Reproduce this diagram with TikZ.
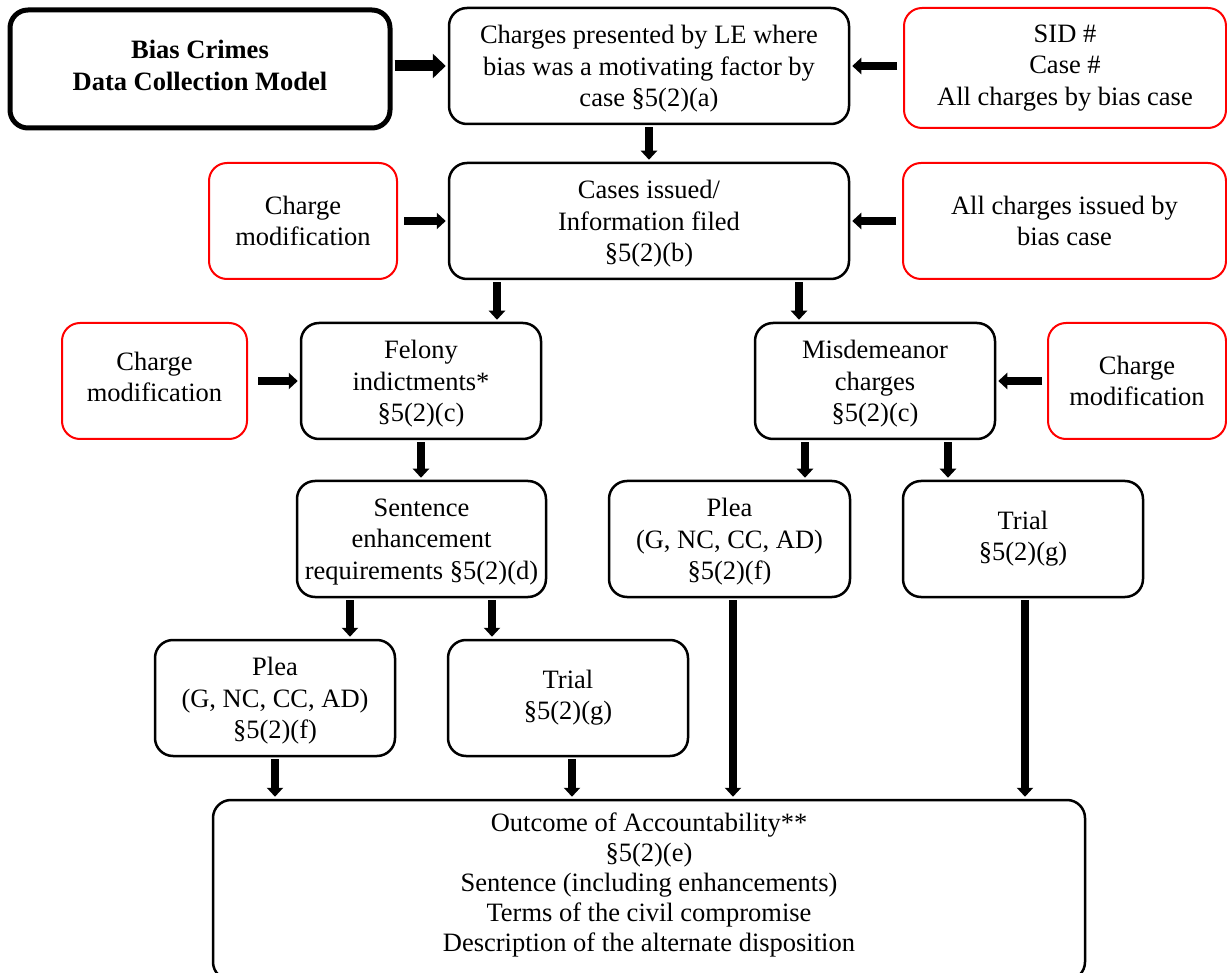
\documentclass[tikz,border=0pt]{standalone}
\usepackage{fontspec}
\setmainfont{Liberation Serif}
\usetikzlibrary{arrows.meta}
\begin{document}
\begin{tikzpicture}[x=1pt,y=-1pt,
  box/.style={draw=black, line width=2.5pt, rounded corners=18pt, align=center,
    font=\fontsize{26.5}{31.5}\selectfont, inner sep=0pt, text depth=0pt},
  redbox/.style={draw=red, line width=2pt, rounded corners=18pt, align=center,
    font=\fontsize{26.5}{31.5}\selectfont, inner sep=0pt},
  titlebox/.style={draw=black, line width=5pt, rounded corners=18pt, align=center,
    inner sep=0pt, text depth=7pt, font=\fontsize{26.5}{31.5}\selectfont\bfseries},
  arr/.style={line width=8pt, -{Triangle[width=16pt,length=9pt]}, shorten <=2pt, shorten >=2pt},
  bigarr/.style={line width=11pt, -{Triangle[width=24pt,length=13pt]}, shorten <=2pt, shorten >=2pt},
  arrr/.style={arr, shorten <=6pt}
]
\useasboundingbox (0,0) rectangle (1227,973);

% nodes
\node[titlebox, minimum width=380pt, minimum height=118pt] (title) at (200,69) {Bias Crimes\\Data Collection Model};
\node[box, minimum width=400pt, minimum height=116pt] (top) at (649,66) {Charges presented by LE where\\bias was a motivating factor by\\case \S5(2)(a)};
\node[redbox, minimum width=322pt, minimum height=120pt] (sid) at (1065,68) {SID \#\\Case \#\\All charges by bias case};

\node[box, minimum width=400pt, minimum height=116pt] (cases) at (649,221) {Cases issued/\\Information filed\\\S5(2)(b)};
\node[redbox, minimum width=188pt, minimum height=116pt] (cmA) at (303,221) {Charge\\modification};
\node[redbox, minimum width=323pt, minimum height=116pt] (allch) at (1064.5,221) {All charges issued by\\bias case};

\node[box, minimum width=240pt, minimum height=116pt] (felony) at (421,381) {Felony\\indictments*\\\S5(2)(c)};
\node[redbox, minimum width=185pt, minimum height=116pt, text depth=8pt] (cmB) at (154.5,381) {Charge\\modification};
\node[box, minimum width=240pt, minimum height=116pt] (misd) at (875,381) {Misdemeanor\\charges\\\S5(2)(c)};
\node[redbox, minimum width=178pt, minimum height=116pt] (cmC) at (1137,381) {Charge\\modification};

\node[box, minimum width=249pt, minimum height=116pt] (sent) at (421.5,539) {Sentence\\enhancement\\requirements \S5(2)(d)};
\node[box, minimum width=241pt, minimum height=116pt, text depth=-3pt] (pleaR) at (729.5,539) {Plea\\(G, NC, CC, AD)\\\S5(2)(f)};
\node[box, minimum width=240pt, minimum height=116pt, text depth=6pt] (trialR) at (1023,539) {Trial\\\S5(2)(g)};

\node[box, minimum width=240pt, minimum height=116pt] (pleaL) at (275,698) {Plea\\(G, NC, CC, AD)\\\S5(2)(f)};
\node[box, minimum width=240pt, minimum height=116pt, text depth=6pt] (trialL) at (568,698) {Trial\\\S5(2)(g)};

\node[box, minimum width=872pt, minimum height=180pt, text depth=15pt, font=\fontsize{26.5}{30}\selectfont] (out) at (649,890)
  {Outcome of Accountability**\\\S5(2)(e)\\Sentence (including enhancements)\\Terms of the civil compromise\\Description of the alternate disposition};

% column coordinates
\coordinate (xA) at (497,0);
\coordinate (xB) at (799,0);
\coordinate (xC) at (805,0);
\coordinate (xD) at (948,0);
\coordinate (xE) at (350,0);
\coordinate (xF) at (492,0);
\coordinate (xG) at (572,0);
\coordinate (xH) at (733,0);
\coordinate (xI) at (1025,0);

% horizontal arrows
\draw[bigarr] (title.east |- top.west) -- (top.west);
\draw[arrr] (sid.west |- top.east) -- (top.east);
\draw[arrr] (cmA.east) -- (cases.west);
\draw[arrr] (allch.west) -- (cases.east);
\draw[arr, shorten <=10pt] (cmB.east) -- (felony.west);
\draw[arr, shorten <=5pt] (cmC.west) -- (misd.east);

% vertical arrows
\draw[arr] (top.south) -- (cases.north);
\draw[arr] (xA |- cases.south) -- (xA |- felony.north);
\draw[arr] (xB |- cases.south) -- (xB |- misd.north);
\draw[arr] (felony.south) -- (felony.south |- sent.north);
\draw[arr] (xC |- misd.south) -- (xC |- pleaR.north);
\draw[arr] (xD |- misd.south) -- (xD |- trialR.north);
\draw[arr] (xE |- sent.south) -- (xE |- pleaL.north);
\draw[arr] (xF |- sent.south) -- (xF |- trialL.north);
\draw[arr] (pleaL.south) -- (pleaL.south |- out.north);
\draw[arr] (xG |- trialL.south) -- (xG |- out.north);
\draw[arr] (xH |- pleaR.south) -- (xH |- out.north);
\draw[arr] (xI |- trialR.south) -- (xI |- out.north);
\end{tikzpicture}
\end{document}
